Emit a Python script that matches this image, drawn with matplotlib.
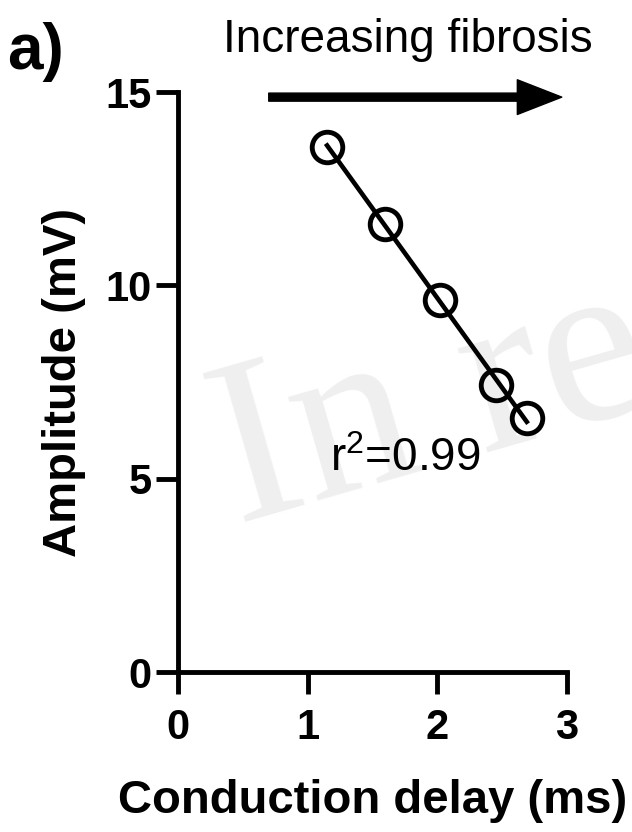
import numpy as np
import matplotlib
matplotlib.use('Agg')
import matplotlib.pyplot as plt

plt.rcParams['font.family'] = ['Liberation Sans', 'DejaVu Sans']
plt.rcParams['mathtext.fontset'] = 'custom'
plt.rcParams['mathtext.rm'] = 'Liberation Sans'

# Conduction delay vs amplitude
delay = [1.15, 1.60, 2.02, 2.45, 2.69]
amplitude = [13.58, 11.60, 9.62, 7.42, 6.57]
x_ticks = [0, 1, 2, 3]
y_ticks = [0, 5, 10, 15]

fig = plt.figure(figsize=(6.32, 8.32), dpi=100)
ax = fig.add_axes([0.2816, 0.1923, 0.6155, 0.697])
ax.set_zorder(2)
ax.patch.set_alpha(0)

# watermark
fig.text(0.375, 0.37, "In re", fontsize=170, color='#efefef',
         family='Liberation Serif', rotation=16, rotation_mode='anchor',
         ha='left', va='baseline', zorder=-1)

# linear fit across the data range
slope, intercept = np.polyfit(delay, amplitude, 1)
fit_x = np.array([min(delay), max(delay)])
ax.plot(fit_x, slope * fit_x + intercept, color='black', lw=3.3, zorder=3)
ax.plot(delay, amplitude, 'o', ms=22, mfc='none', mec='black', mew=3.5, zorder=4)

ax.set_xlim(0, 3)
ax.set_ylim(0, 15)
ax.set_xticks(x_ticks)
ax.set_yticks(y_ticks)
for s in ['top', 'right']:
    ax.spines[s].set_visible(False)
for s in ['left', 'bottom']:
    ax.spines[s].set_linewidth(3.5)
ax.tick_params(width=3.5, length=16, labelsize=30)
ax.tick_params(axis='x', pad=10)
ax.tick_params(axis='y', pad=3)
for lbl in ax.get_xticklabels() + ax.get_yticklabels():
    lbl.set_fontweight('bold')

ax.set_xlabel("Conduction delay (ms)", fontsize=34, fontweight='bold', labelpad=22)
ax.set_ylabel("Amplitude (mV)", fontsize=34, fontweight='bold', labelpad=14)

ax.text(1.17, 5.2, "r$^2$=0.99", fontsize=33)

# fibrosis arrow
ax.annotate("", xy=(2.96, 14.87), xytext=(0.7, 14.87), annotation_clip=False,
            arrowprops=dict(width=5.8, headwidth=25, headlength=32,
                            color='black', shrink=0))
fig.text(0.645, 0.938, "Increasing fibrosis", fontsize=33, ha='center', va='baseline')
fig.text(0.012, 0.917, "a)", fontsize=46, fontweight='bold', ha='left', va='baseline')

fig.savefig('out.png', dpi=100)
